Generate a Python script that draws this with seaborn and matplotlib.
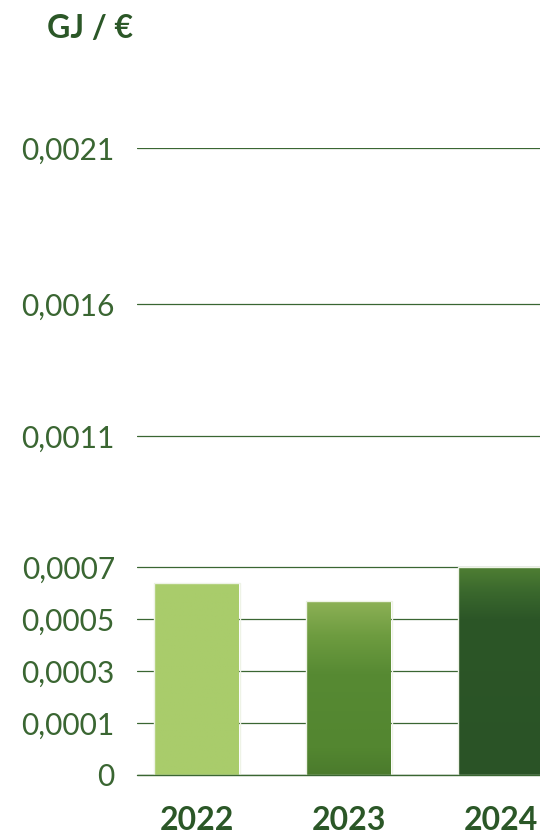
import matplotlib
matplotlib.use("Agg")
import matplotlib.pyplot as plt
import matplotlib.colors as mcolors
import matplotlib.transforms as mtransforms
import numpy as np
import pandas as pd
import seaborn as sns

# data
years = ["2022", "2023", "2024"]
values = [0.00064, 0.00057, 0.0007]
tick_values = [0, 0.0001, 0.0003, 0.0005, 0.0007, 0.0011, 0.0016, 0.0021]
tick_labels = ["0", "0,0001", "0,0003", "0,0005", "0,0007", "0,0011", "0,0016", "0,0021"]
# the axis of the original is not linear: each tick sits at its own height
tick_heights = [0, 52, 104, 156, 208, 339, 471, 627]

# bar colours, (position from top, colour)
bar_grads = [
    [(0.0, "#a9cc6b"), (1.0, "#a9cc6b")],
    [(0.0, "#8db156"), (0.2, "#6e9c40"), (0.42, "#578a33"), (0.85, "#538630"), (1.0, "#4b7b2d")],
    [(0.0, "#4f7f33"), (0.12, "#3a682d"), (0.25, "#2c5627"), (1.0, "#2a5326")],
]

GREEN = "#3a6632"
DARK = "#2b5727"

df = pd.DataFrame({"year": years, "value": values})


def forward(v):
    return np.interp(v, tick_values, tick_heights)


def inverse(p):
    return np.interp(p, tick_heights, tick_values)


sns.set_theme(style="white")
plt.rcParams["font.family"] = ["Lato", "DejaVu Sans"]

fig = plt.figure(figsize=(5.4, 8.36), dpi=100)
ax = fig.add_axes([137 / 540, 61 / 836, 1 - 137 / 540, 627 / 836])
ax.set_yscale("function", functions=(forward, inverse))

sns.barplot(df, x="year", y="value", ax=ax, width=0.56,
            color="#a9cc6b", edgecolor="#eef3e6", linewidth=1.0, zorder=3)

ax.set_xlim(-0.395, 2.257)
ax.set_ylim(0, 0.0021)

# gradient fill clipped to each bar
top = forward(0.0021)
trans = mtransforms.blended_transform_factory(ax.transData, ax.transAxes)
for patch, grad, val in zip(ax.patches, bar_grads, values):
    stops = [(1 - p, c) for p, c in grad][::-1]
    cmap = mcolors.LinearSegmentedColormap.from_list("g", stops)
    img = np.linspace(0, 1, 256).reshape(-1, 1)
    x0 = patch.get_x()
    x1 = x0 + patch.get_width()
    im = ax.imshow(img, cmap=cmap, aspect="auto", origin="lower",
                   extent=[x0, x1, 0, forward(val) / top],
                   transform=trans, zorder=3.5, interpolation="bilinear")
    im.set_clip_path(patch)
    patch.set_facecolor("none")
    patch.set_zorder(4)

ax.set_xlim(-0.395, 2.257)
ax.set_ylim(0, 0.0021)

ax.set_yticks(tick_values)
ax.set_yticklabels(tick_labels)
ax.yaxis.grid(True, color=GREEN, linewidth=0.9, zorder=0)
ax.set_axisbelow(True)
for s in ax.spines.values():
    s.set_visible(False)
ax.axhline(0, color=GREEN, linewidth=1.0, zorder=5, clip_on=False)

ax.tick_params(axis="y", length=0, pad=16, labelsize=21.5, labelcolor=GREEN)
ax.tick_params(axis="x", length=0, pad=22, labelsize=23, labelcolor=DARK)
for lab in ax.get_xticklabels():
    lab.set_fontweight("bold")
ax.set_xlabel("")
ax.set_ylabel("")

fig.text(47 / 540, 1 - 28 / 836, "GJ / €", fontsize=23, fontweight="bold",
         color=DARK, va="center", ha="left")

fig.savefig("out.png", dpi=100)
